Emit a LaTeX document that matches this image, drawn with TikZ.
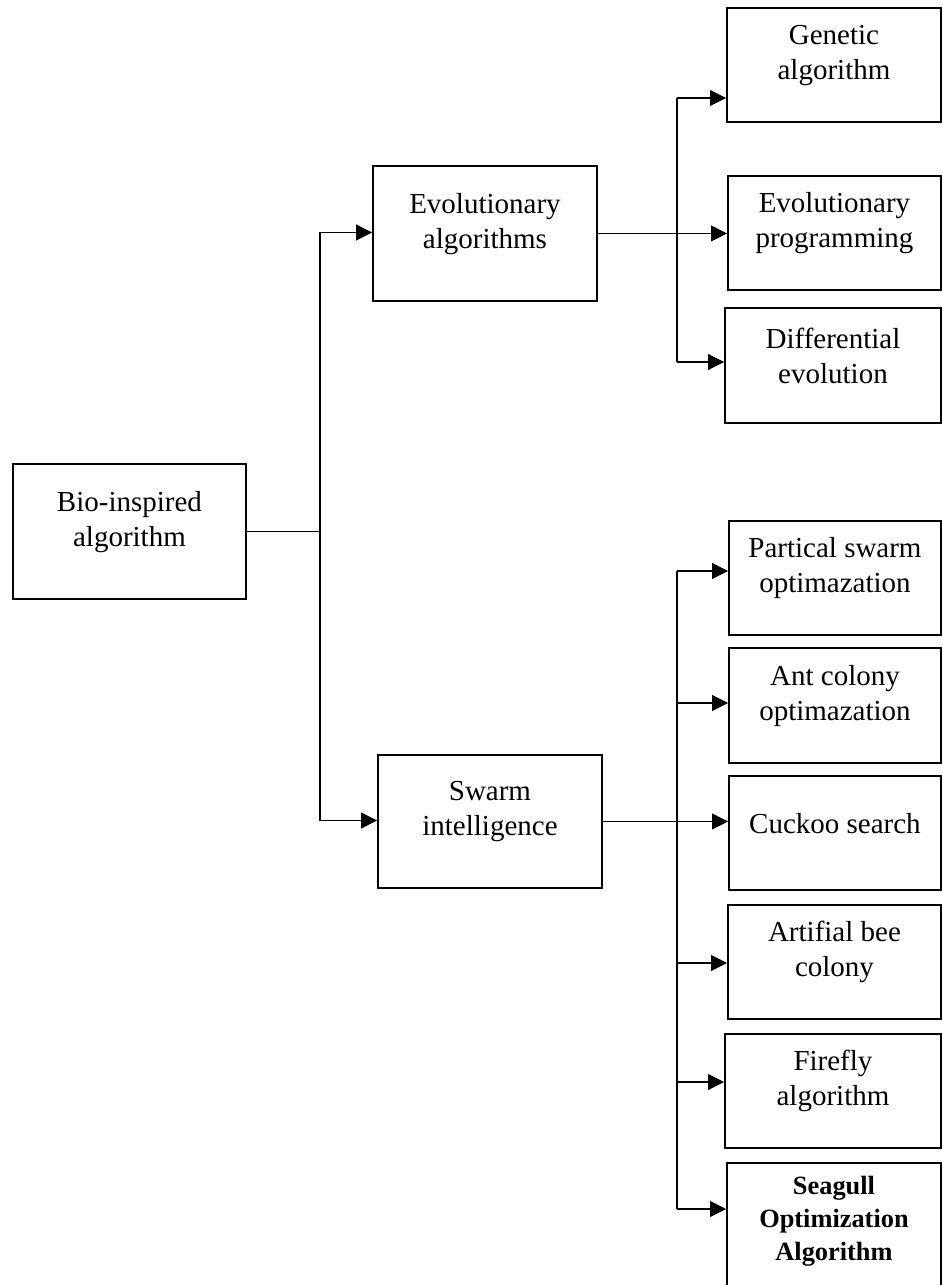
\documentclass[tikz,border=0pt]{standalone}
\usepackage{fontspec}
\setmainfont{Liberation Serif}
\usetikzlibrary{arrows.meta}

\tikzset{
  box/.style n args={2}{draw, line width=1.1pt, inner sep=0pt, anchor=north west,
    font=\fontsize{16.5}{20}\selectfont,
    execute at begin node={\begin{minipage}[c][#2][c]{#1}\centering},
    execute at end node={\par\vspace{11pt}\end{minipage}}},
  conn/.style={line width=0.6pt},
  arr/.style={line width=0.6pt, -{Triangle[length=9pt, width=9pt]}}
}

\begin{document}
\begin{tikzpicture}[scale=1.0]
\clip (0,0) rectangle (18.84,-25.7);

\node[box={4.66cm}{2.7cm}] (bio) at (0.24,-9.26) {Bio-inspired\\algorithm};
\node[box={4.48cm}{2.7cm}] (evo) at (7.44,-3.3) {Evolutionary\\algorithms};
\node[box={4.48cm}{2.66cm}] (swarm) at (7.54,-15.08) {Swarm\\intelligence};

\node[box={4.28cm}{2.28cm}] (ga) at (14.52,-0.14) {Genetic\\algorithm};
\node[box={4.26cm}{2.28cm}] (ep) at (14.54,-3.5) {Evolutionary\\programming};
\node[box={4.32cm}{2.3cm}] (de) at (14.48,-6.14) {Differential\\evolution};

\node[box={4.24cm}{2.28cm}] (pso) at (14.56,-10.4) {Partical swarm\\optimazation};
\node[box={4.24cm}{2.3cm}] (aco) at (14.56,-12.94) {Ant colony\\optimazation};
\node[box={4.24cm}{2.28cm}] (cs) at (14.56,-15.5) {Cuckoo search};
\node[box={4.26cm}{2.28cm}] (abc) at (14.54,-18.08) {Artifial bee\\colony};
\node[box={4.32cm}{2.28cm}] (ff) at (14.48,-20.66) {Firefly\\algorithm};
\node[box={4.28cm}{2.72cm}] (soa) at (14.52,-23.24) {{\bfseries\fontsize{15}{18.7}\selectfont Seagull\\Optimization\\Algorithm\par}};

\coordinate (t1a) at (6.4,-4.65);
\coordinate (t1j) at (6.4,-10.64);
\coordinate (t1b) at (6.4,-16.41);
\draw[conn] (bio.east) -- (bio.east -| t1j);
\draw[conn] (t1a) -- (t1b);
\draw[arr] (t1a) -- (t1a -| evo.west);
\draw[arr] (t1b) -- (t1b -| swarm.west);

\coordinate (t2a) at (13.54,-1.96);
\coordinate (t2b) at (13.54,-7.24);
\draw[conn] (evo.east) -- (evo.east -| t2a);
\draw[conn] (t2a) -- (t2b);
\draw[arr] (t2a) -- (t2a -| ga.west);
\draw[arr] (evo.east -| t2a) -- (evo.east -| ep.west);
\draw[arr] (t2b) -- (t2b -| de.west);

\coordinate (t3a) at (13.54,-11.42);
\coordinate (t3c) at (13.54,-14.06);
\coordinate (t3d) at (13.54,-19.26);
\coordinate (t3e) at (13.54,-21.64);
\coordinate (t3b) at (13.54,-24.18);
\draw[conn] (swarm.east) -- (swarm.east -| t3a);
\draw[conn] (t3a) -- (t3b);
\draw[arr] (t3a) -- (t3a -| pso.west);
\draw[arr] (t3c) -- (t3c -| aco.west);
\draw[arr] (swarm.east -| t3a) -- (swarm.east -| cs.west);
\draw[arr] (t3d) -- (t3d -| abc.west);
\draw[arr] (t3e) -- (t3e -| ff.west);
\draw[arr] (t3b) -- (t3b -| soa.west);

\end{tikzpicture}
\end{document}
